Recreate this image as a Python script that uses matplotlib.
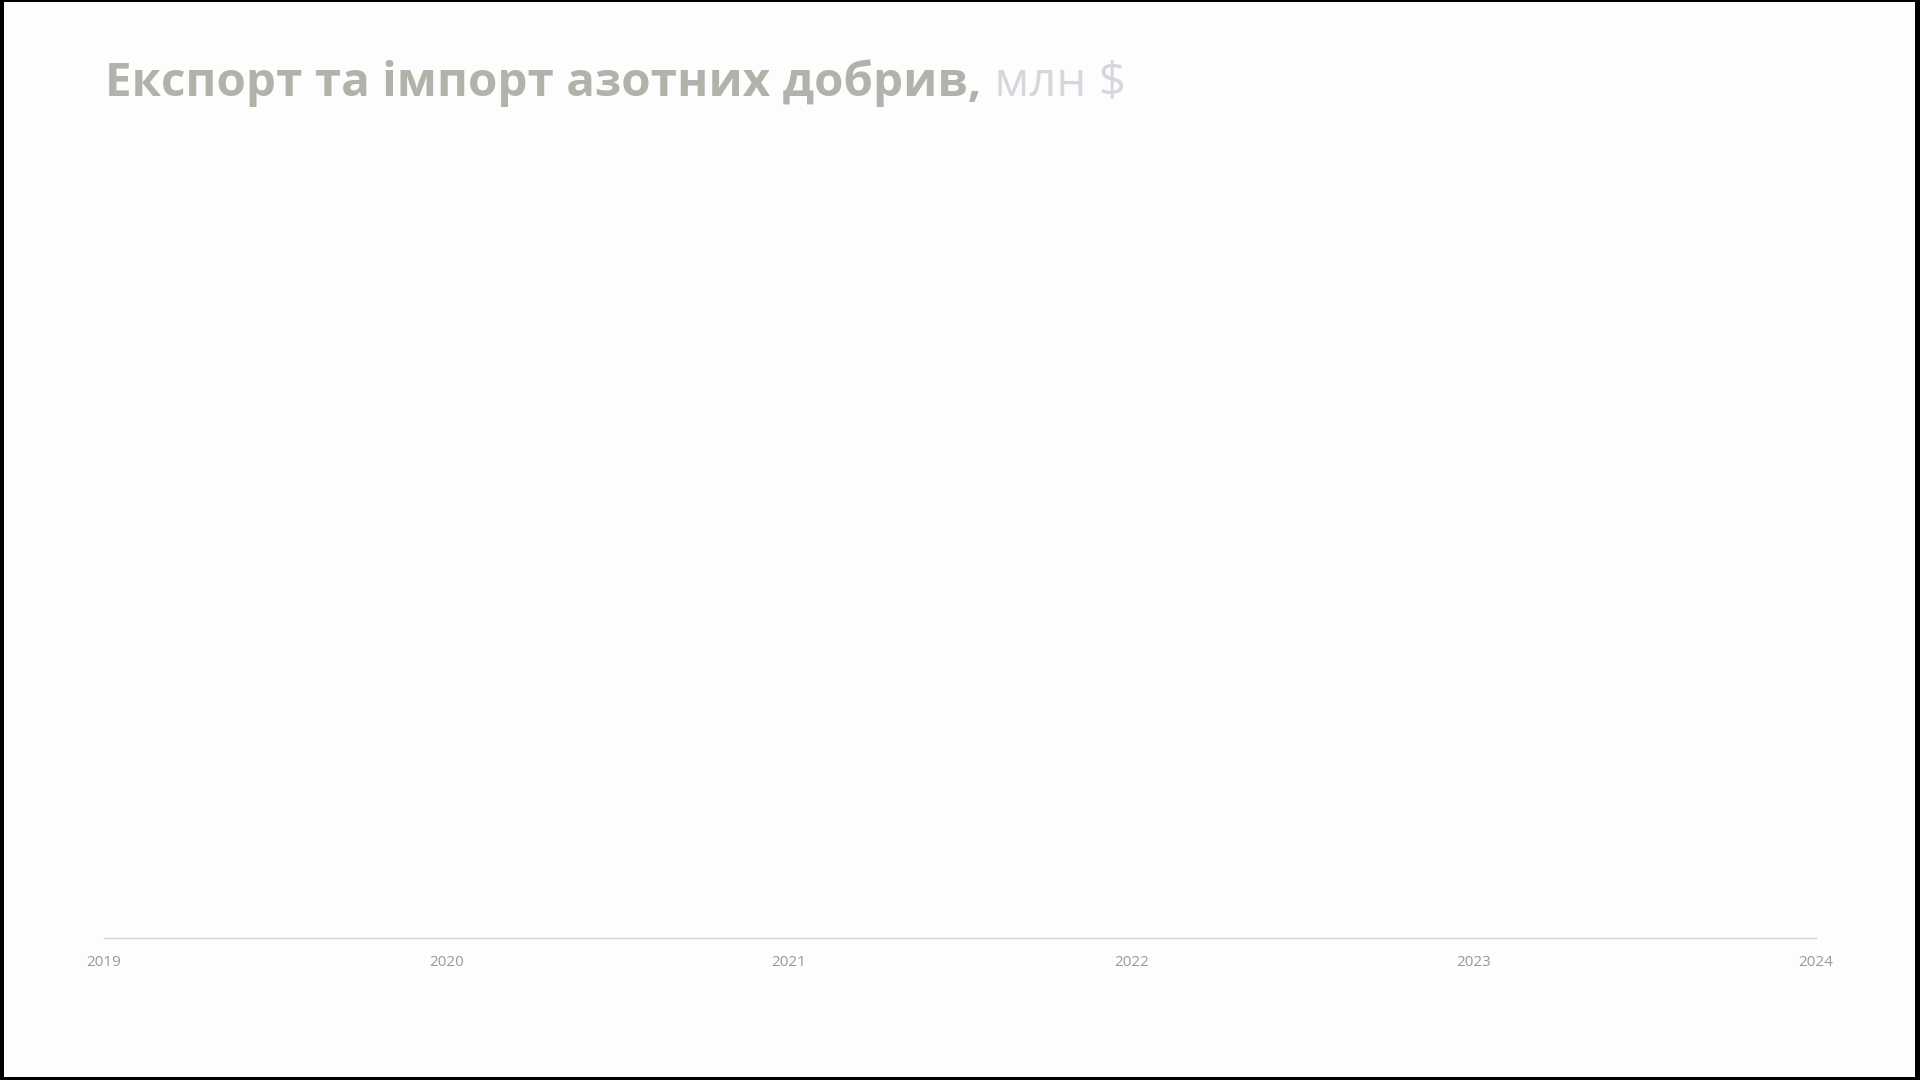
import matplotlib.pyplot as plt
from matplotlib.patches import Rectangle

# chart is still empty in the reference: only the title and the year axis
years = [2019, 2020, 2021, 2022, 2023, 2024]
year_labels = [str(y) for y in years]
title_main = "Експорт та імпорт азотних добрив,"
title_unit = " млн $"

plt.rcParams['font.family'] = ['Open Sans', 'DejaVu Sans']

fig = plt.figure(figsize=(19.2, 10.8), dpi=100)
fig.patch.set_facecolor("black")
# light page inside a thin dark frame
fig.patches.append(Rectangle((4/1920, 3/1080), 1 - 9/1920, 1 - 5/1080,
                             transform=fig.transFigure, facecolor="#fdfdfe",
                             edgecolor="none", zorder=-1))

ax = fig.add_axes([104/1920, 1 - 938/1080, (1816 - 104)/1920, 0.7])
ax.set_facecolor("none")
ax.set_xlim(years[0], years[-1])
ax.set_ylim(0, 1)
ax.set_xticks(years)
ax.set_xticklabels(year_labels, fontsize=11, color="#999999")
ax.tick_params(axis="x", length=0, pad=12)
ax.set_yticks([])
for s in ["top", "right", "left"]:
    ax.spines[s].set_visible(False)
ax.spines["bottom"].set_color("#d4d4d4")
ax.spines["bottom"].set_linewidth(1)

t = fig.text(105/1920, 1 - 96/1080, title_main, fontsize=34.2, fontweight="bold",
             color="#b3b2aa", ha="left", va="baseline")
fig.canvas.draw()
bb = t.get_window_extent()
fig.text(bb.x1 / 1920, 1 - 96/1080, title_unit, fontsize=34.2,
         color="#d6d6dc", ha="left", va="baseline")

fig.savefig("out.png", dpi=100, facecolor=fig.get_facecolor())
